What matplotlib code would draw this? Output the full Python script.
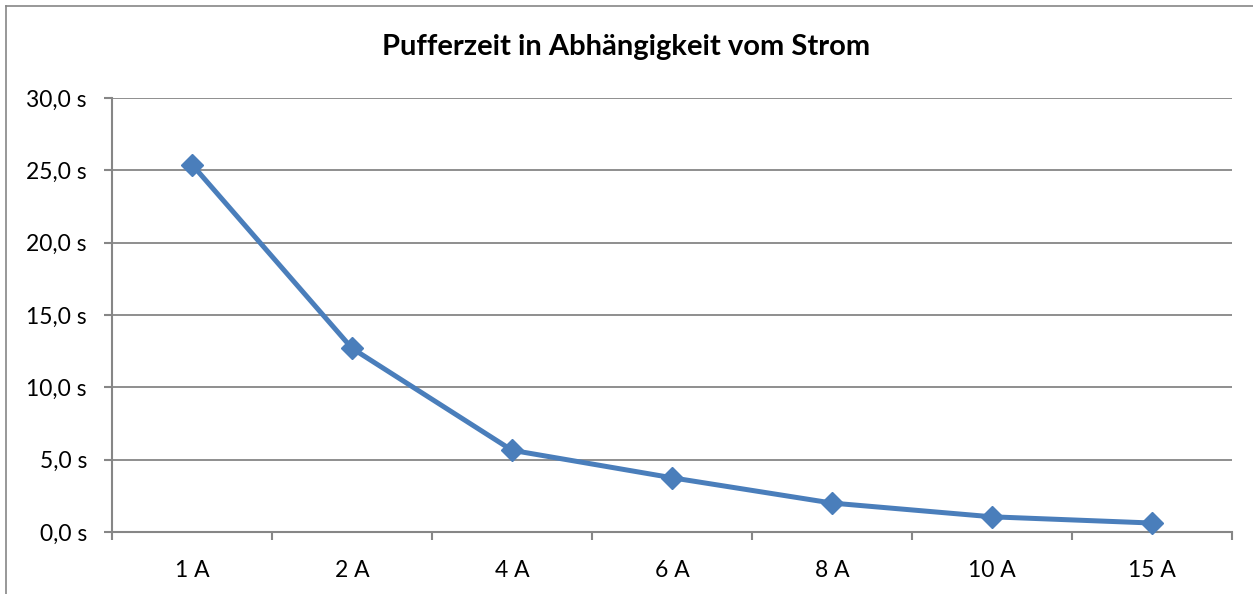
import matplotlib
matplotlib.use("Agg")
import matplotlib.pyplot as plt
from matplotlib.lines import Line2D

categories = ["1 A", "2 A", "4 A", "6 A", "8 A", "10 A", "15 A"]
values = [25.4, 12.7, 5.65, 3.75, 2.0, 1.05, 0.62]
yticks = [0, 5, 10, 15, 20, 25, 30]
title = "Pufferzeit in Abhängigkeit vom Strom"

plt.rcParams['font.family'] = ['Lato', 'DejaVu Sans']

W, H = 1253, 594
fig = plt.figure(figsize=(W / 100, H / 100), dpi=100)
ax = fig.add_axes([112 / W, 1 - 532 / H, (1232 - 112) / W, (532 - 98) / H])

x = list(range(len(categories)))
ax.plot(x, values, color="#4A7EBB", lw=3.6, marker="D", markersize=11,
        markerfacecolor="#4A7EBB", markeredgecolor="#4A7EBB", zorder=3,
        solid_joinstyle="round", clip_on=False)

ax.set_xlim(-0.5, len(categories) - 0.5)
ax.set_ylim(0, 30)
ax.set_yticks(yticks)
ax.set_yticklabels([f"{v:.1f}".replace(".", ",") + " s" for v in yticks], fontsize=16.5)
ax.set_xticks(x)
ax.set_xticklabels(categories, fontsize=16.5)
ax.set_xticks([i - 0.5 for i in range(len(categories) + 1)], minor=True)
ax.tick_params(axis="x", which="major", length=0, pad=20)
ax.tick_params(axis="x", which="minor", length=6, color="#868686", width=1.5)
ax.tick_params(axis="y", length=6, color="#868686", width=1.5, pad=12)
ax.grid(axis="y", color="#868686", lw=1.3)
ax.set_axisbelow(True)
for s in ["top", "right"]:
    ax.spines[s].set_visible(False)
for s in ["left", "bottom"]:
    ax.spines[s].set_color("#868686")
    ax.spines[s].set_linewidth(1.5)

fig.text(0.5, 1 - 47 / H, title, ha="center", va="center", fontsize=21, fontweight="bold")

# outer chart border (left and top visible)
fig.add_artist(Line2D([6 / W, 6 / W], [0, 1 - 6 / H], transform=fig.transFigure, color="#868686", lw=1.2))
fig.add_artist(Line2D([6 / W, 1], [1 - 6 / H, 1 - 6 / H], transform=fig.transFigure, color="#868686", lw=1.2))

fig.savefig("out.png", dpi=100)
